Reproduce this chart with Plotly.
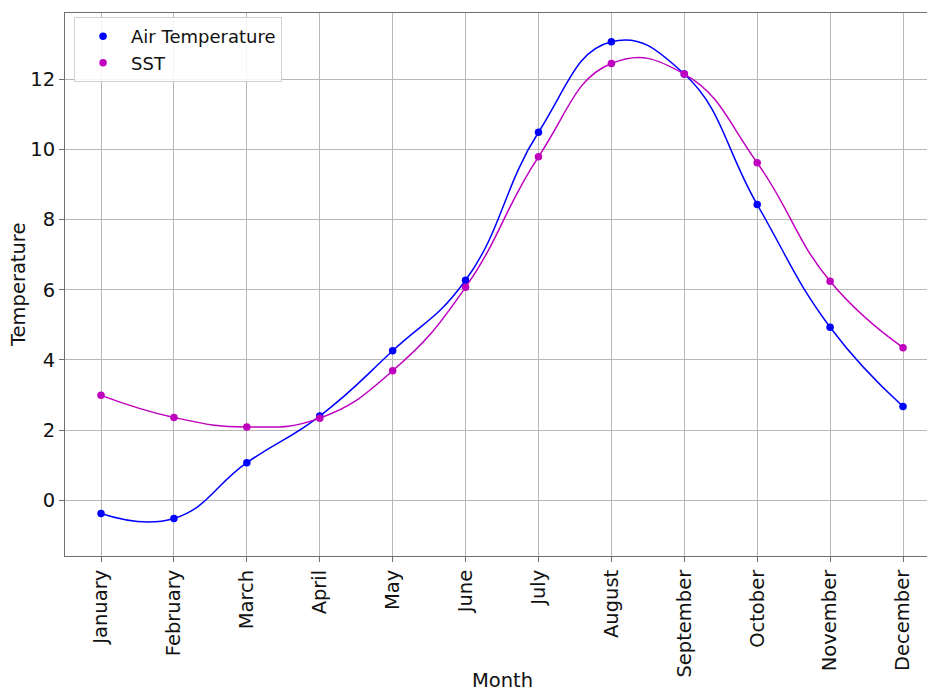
import plotly.graph_objects as go

months = ["January", "February", "March", "April", "May", "June",
          "July", "August", "September", "October", "November", "December"]
air_temperature = [-0.38, -0.52, 1.07, 2.40, 4.26, 6.27,
                   10.49, 13.07, 12.15, 8.43, 4.93, 2.67]
sst = [2.99, 2.36, 2.09, 2.34, 3.69, 6.07,
       9.79, 12.45, 12.15, 9.62, 6.24, 4.35]

month_index = list(range(len(months)))

FONT = "DejaVu Sans"
BLUE = "#0000ff"
MAGENTA = "#bf00bf"
TEXT = "#111111"
SPINE = "#707070"

fig = go.Figure()
for name, values, color in [("Air Temperature", air_temperature, BLUE),
                            ("SST", sst, MAGENTA)]:
    # smooth curve through the monthly values
    fig.add_trace(go.Scatter(
        x=month_index, y=values, mode="lines",
        line=dict(color=color, width=1.5, shape="spline", smoothing=1.3),
        showlegend=False, hoverinfo="skip",
    ))
    # monthly markers
    fig.add_trace(go.Scatter(
        x=month_index, y=values, mode="markers", name=name,
        marker=dict(color=color, size=7.5),
    ))

axis_common = dict(
    showline=True, linecolor=SPINE, linewidth=1,
    showgrid=True, gridcolor="#b8b8b8", gridwidth=1,
    ticks="outside", ticklen=5, tickcolor=SPINE,
    tickfont=dict(family=FONT, size=19.5, color=TEXT),
    zeroline=False, automargin=False,
)

fig.update_xaxes(
    **axis_common, mirror=True,
    tickmode="array", tickvals=month_index, ticktext=months,
    tickangle=-90, range=[-0.494, 11.329],
)
fig.update_yaxes(
    **axis_common, mirror=False,
    tickmode="array", tickvals=[0, 2, 4, 6, 8, 10, 12],
    range=[-1.59, 13.89],
)

# axis titles
fig.add_annotation(
    text="Month", xref="paper", yref="paper", x=0.507, y=-0.2300,
    xanchor="center", yanchor="middle", showarrow=False,
    font=dict(family=FONT, size=19.5, color=TEXT),
)
fig.add_annotation(
    text="Temperature", xref="paper", yref="paper", x=-0.0545, y=0.499,
    xanchor="center", yanchor="middle", showarrow=False, textangle=-90,
    font=dict(family=FONT, size=19.5, color=TEXT),
)

fig.update_layout(
    width=927, height=691,
    margin=dict(l=65, r=0, t=13, b=135),
    paper_bgcolor="white", plot_bgcolor="white",
    font=dict(family=FONT, size=18, color=TEXT),
    legend=dict(
        x=0.0105, y=0.9925, xanchor="left", yanchor="top",
        bgcolor="rgba(255,255,255,0.85)", bordercolor="#d0d0d0", borderwidth=1,
        font=dict(family=FONT, size=18, color=TEXT),
        itemwidth=46,
    ),
)

fig.write_html("out.html")
